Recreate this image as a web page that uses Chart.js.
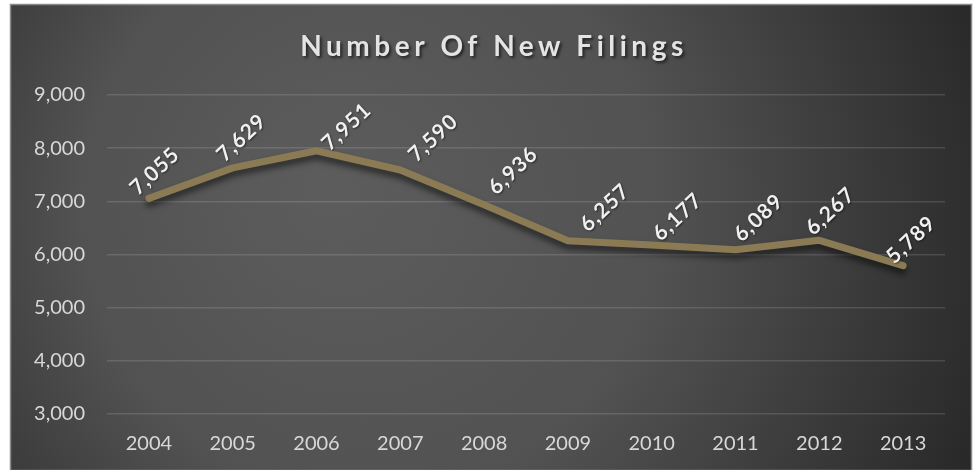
<!DOCTYPE html>
<html><head><meta charset="utf-8">
<script src="https://cdn.jsdelivr.net/npm/chart.js@4/dist/chart.umd.min.js"></script>
<style>html,body{margin:0;padding:0;background:#fff}#w{width:973px;height:470px}</style>
</head><body><div id="w"><canvas id="c" width="973" height="470"></canvas></div>
<script>
const titleText = "Number Of New Filings";
const years = ["2004","2005","2006","2007","2008","2009","2010","2011","2012","2013"];
const filings = [7055,7629,7951,7590,6936,6257,6177,6089,6267,5789];
const yTicks = [3000,4000,5000,6000,7000,8000,9000];

const FONT = "Lato, 'Open Sans', sans-serif";
// per-label nudges (style only), as placed in the original
const labelNudge = [[6,-27],[9,-30],[30,-24],[33,-32],[29,-34],[37,-33],[26,-28],[23,-32],[11,-29],[8,-26]];

const bgPlugin = {
  id:'bg',
  beforeInit(chart){ chart.ctx.letterSpacing = '1px'; },
  beforeDraw(chart){
    const ctx = chart.ctx;
    ctx.save();
    ctx.fillStyle = '#ffffff';
    ctx.fillRect(0,0,chart.width,chart.height);
    const x0=10,y0=4,x1=972,y1=470;
    const g = ctx.createRadialGradient(330,190,20,420,230,620);
    g.addColorStop(0,'#5c5c5c');
    g.addColorStop(0.45,'#525252');
    g.addColorStop(1,'#262626');
    ctx.fillStyle = g;
    ctx.fillRect(x0,y0,x1-x0,y1-y0);
    ctx.strokeStyle = '#8a8a8a';
    ctx.lineWidth = 1.5;
    ctx.strokeRect(x0+0.5,y0+0.5,x1-x0-1,y1-y0);
    ctx.restore();
  },
  afterDraw(chart){
    const ctx = chart.ctx;
    ctx.save();
    ctx.font = "bold 28px " + FONT;
    ctx.letterSpacing = "4.5px";
    ctx.textAlign = 'center';
    ctx.textBaseline = 'middle';
    ctx.shadowColor = 'rgba(0,0,0,0.6)';
    ctx.shadowOffsetX = 2; ctx.shadowOffsetY = 2; ctx.shadowBlur = 3;
    ctx.fillStyle = '#e4e4e4';
    ctx.fillText(titleText, 494, 47);
    ctx.restore();
  }
};

const labelPlugin = {
  id:'vlabels',
  beforeDatasetDraw(chart){
    const ctx = chart.ctx;
    ctx.save();
    ctx.shadowColor = 'rgba(0,0,0,0.55)';
    ctx.shadowOffsetX = 0; ctx.shadowOffsetY = 5; ctx.shadowBlur = 6;
  },
  afterDatasetDraw(chart){
    chart.ctx.restore();
  },
  afterDatasetsDraw(chart){
    const ctx = chart.ctx;
    const meta = chart.getDatasetMeta(0);
    ctx.save();
    ctx.font = "bold 21px " + FONT;
    ctx.letterSpacing = "1px";
    ctx.fillStyle = '#f0f0f0';
    ctx.textAlign = 'center';
    ctx.textBaseline = 'middle';
    ctx.shadowColor = 'rgba(0,0,0,0.5)';
    ctx.shadowOffsetX = 1; ctx.shadowOffsetY = 1; ctx.shadowBlur = 2;
    meta.data.forEach((pt,i)=>{
      const n = labelNudge[i];
      ctx.save();
      ctx.translate(pt.x+n[0], pt.y+n[1]);
      ctx.rotate(-43*Math.PI/180);
      ctx.fillText(filings[i].toLocaleString('en-US'),0,0);
      ctx.restore();
    });
    ctx.restore();
  }
};

new Chart(document.getElementById('c'),{
  type:'line',
  data:{labels:years,datasets:[{data:filings,borderColor:'#8b7b55',borderWidth:7,pointRadius:0,tension:0,fill:false,borderCapStyle:'round',borderJoinStyle:'round'}]},
  options:{
    responsive:false,animation:false,
    layout:{padding:{left:10,right:28,top:95,bottom:0}},
    plugins:{legend:{display:false},title:{display:false},tooltip:{enabled:false}},
    scales:{
      x:{
        offset:true,
        grid:{display:false,drawTicks:false,offset:true},border:{display:false},
        ticks:{color:'#d8d8d8',font:{size:20,family:FONT},padding:18,maxRotation:0},
        afterFit(s){s.height=56;}
      },
      y:{
        min:3000,max:9000,
        afterBuildTicks(s){s.ticks = yTicks.map(v=>({value:v}));},
        grid:{color:'rgba(255,255,255,0.13)',lineWidth:1.5,drawTicks:false},border:{display:false},
        ticks:{color:'#d8d8d8',font:{size:20,family:FONT},padding:22,callback:v=>v.toLocaleString('en-US')},
        afterFit(s){s.width=97;}
      }
    }
  },
  plugins:[bgPlugin,labelPlugin]
});
</script></body></html>
